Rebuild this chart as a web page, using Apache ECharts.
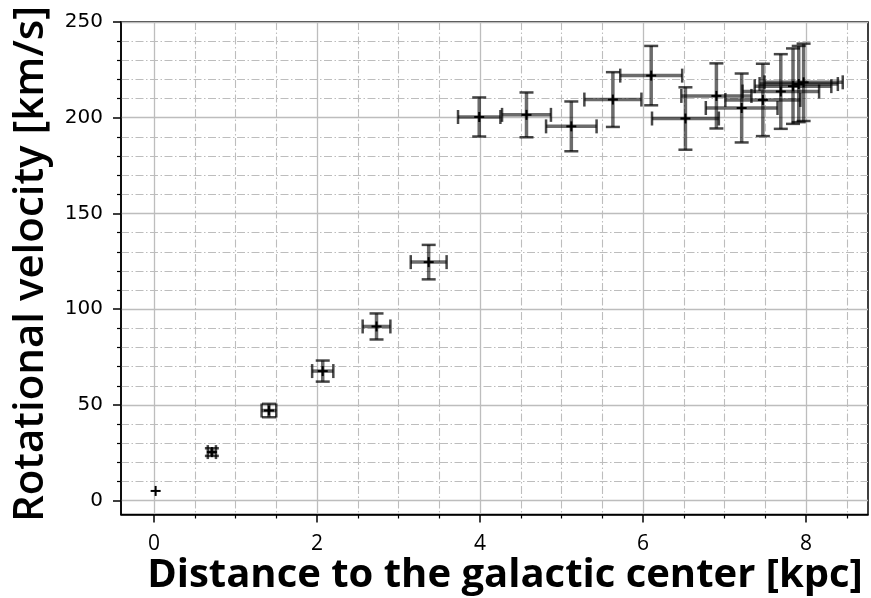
<!DOCTYPE html>
<html>
<head>
<meta charset="utf-8">
<script src="https://cdn.jsdelivr.net/npm/echarts@6/dist/echarts.min.js"></script>
<style>
  html, body { margin: 0; padding: 0; background: #fff; }
  #chart { width: 871px; height: 598px; }
</style>
</head>
<body>
<div id="chart"></div>
<script>
// Rotation curve measurements: distance [kpc], velocity [km/s] and their uncertainties
const distance    = [0.02, 0.71, 1.41, 2.07, 2.73, 3.37, 3.99, 4.57, 5.12, 5.63, 6.10, 6.52, 6.90, 7.21, 7.47, 7.69, 7.84, 7.91, 7.97];
const velocity    = [5.1, 25.4, 47.1, 67.7, 91.0, 124.6, 200.4, 201.5, 195.5, 209.5, 222.0, 199.6, 211.4, 205.1, 209.3, 213.7, 216.5, 217.6, 218.5];
const distanceErr = [0.00, 0.05, 0.09, 0.13, 0.17, 0.22, 0.26, 0.30, 0.31, 0.35, 0.38, 0.41, 0.43, 0.44, 0.46, 0.47, 0.47, 0.48, 0.48];
const velocityErr = [0.0, 2.0, 3.5, 5.5, 6.8, 9.0, 10.2, 11.7, 13.0, 14.3, 15.5, 16.3, 17.0, 18.0, 18.9, 19.5, 19.7, 19.9, 20.2];

// Axis ticks
const xMajorTicks = [0, 2, 4, 6, 8];
const xMinorTicks = [0.5, 1, 1.5, 2.5, 3, 3.5, 4.5, 5, 5.5, 6.5, 7, 7.5, 8.5];
const yMajorTicks = [0, 50, 100, 150, 200, 250];
const yMinorTicks = [10, 20, 30, 40, 60, 70, 80, 90, 110, 120, 130, 140, 160, 170, 180, 190, 210, 220, 230, 240];

const xTitle = 'Distance to the galactic center [kpc]';
const yTitle = 'Rotational velocity [km/s]';

const FONT = '"Open Sans", "Noto Sans", sans-serif';
const TICK_FONT = '"DejaVu Sans", sans-serif';
const X_MIN = -0.405, X_MAX = 8.76;
const Y_MIN = -7.2, Y_MAX = 250;

const rows = distance.map((d, i) => [d, velocity[i], distanceErr[i], velocityErr[i]]);

const BAR_COLOR = 'rgba(0,0,0,0.58)';
const CAP_COLOR = 'rgba(0,0,0,0.72)';
const CAP_HALF = 7;
const MARK_HALF = 5;

function renderErrorBar(params, api) {
  const x = api.value(0), y = api.value(1), xe = api.value(2), ye = api.value(3);
  const c = api.coord([x, y]);
  const children = [];
  const line = (x1, y1, x2, y2, stroke, w) => children.push({
    type: 'line',
    shape: { x1, y1, x2, y2 },
    style: { stroke, lineWidth: w }
  });
  if (xe > 0) {
    const l = api.coord([x - xe, y]);
    const r = api.coord([x + xe, y]);
    line(l[0], c[1], r[0], c[1], BAR_COLOR, 3.5);
    line(l[0], c[1] - CAP_HALF, l[0], c[1] + CAP_HALF, CAP_COLOR, 2.5);
    line(r[0], c[1] - CAP_HALF, r[0], c[1] + CAP_HALF, CAP_COLOR, 2.5);
  }
  if (ye > 0) {
    const t = api.coord([x, y + ye]);
    const b = api.coord([x, y - ye]);
    line(c[0], t[1], c[0], b[1], BAR_COLOR, 3.5);
    line(c[0] - CAP_HALF, t[1], c[0] + CAP_HALF, t[1], CAP_COLOR, 2.5);
    line(c[0] - CAP_HALF, b[1], c[0] + CAP_HALF, b[1], CAP_COLOR, 2.5);
  }
  // "+" marker at the measured value
  line(c[0] - MARK_HALF, c[1], c[0] + MARK_HALF, c[1], '#000', 2);
  line(c[0], c[1] - MARK_HALF, c[0], c[1] + MARK_HALF, '#000', 2);
  return { type: 'group', children };
}

const gridLineColor = '#bdbdbd';
const dashDot = [8, 2.5, 1.5, 2.5];

const chart = echarts.init(document.getElementById('chart'), null, { renderer: 'canvas' });
chart.setOption({
  animation: false,
  backgroundColor: '#fff',
  grid: {
    left: 121, right: 3, top: 22, bottom: 83.5,
    show: true, borderColor: '#000', borderWidth: 1.5, backgroundColor: 'transparent'
  },
  xAxis: [
    {
      type: 'value', min: X_MIN, max: X_MAX, position: 'bottom',
      axisLine: { show: true, onZero: false, lineStyle: { color: '#000', width: 1.5 } },
      axisTick: { show: true, inside: false, length: 8, customValues: xMajorTicks, lineStyle: { color: '#000', width: 1.5 } },
      axisLabel: { show: true, customValues: xMajorTicks, margin: 19, color: '#000', fontFamily: FONT, fontSize: 21 },
      splitLine: { show: true, lineStyle: { color: gridLineColor, width: 1.3, type: 'solid' } }
    },
    {
      type: 'value', min: X_MIN, max: X_MAX, position: 'bottom',
      axisLine: { show: false, onZero: false },
      axisTick: { show: true, inside: false, length: 4, customValues: xMinorTicks, lineStyle: { color: '#000', width: 1.2 } },
      axisLabel: { show: false, customValues: xMinorTicks },
      splitLine: { show: true, lineStyle: { color: gridLineColor, width: 1.1, type: dashDot } }
    }
  ],
  yAxis: [
    {
      type: 'value', min: Y_MIN, max: Y_MAX, position: 'left',
      axisLine: { show: true, onZero: false, lineStyle: { color: '#000', width: 1.5 } },
      axisTick: { show: true, inside: false, length: 8, customValues: yMajorTicks, lineStyle: { color: '#000', width: 1.5 } },
      axisLabel: { show: true, customValues: yMajorTicks, margin: 18, color: '#000', fontFamily: TICK_FONT, fontSize: 20 },
      splitLine: { show: true, lineStyle: { color: gridLineColor, width: 1.3, type: 'solid' } }
    },
    {
      type: 'value', min: Y_MIN, max: Y_MAX, position: 'left',
      axisLine: { show: false, onZero: false },
      axisTick: { show: true, inside: false, length: 4, customValues: yMinorTicks, lineStyle: { color: '#000', width: 1.2 } },
      axisLabel: { show: false, customValues: yMinorTicks },
      splitLine: { show: true, lineStyle: { color: gridLineColor, width: 1.1, type: dashDot } }
    }
  ],
  graphic: [
    {
      type: 'text', x: 505, y: 576,
      style: { text: xTitle, fontFamily: FONT, fontSize: 40, fontWeight: 'bold', fill: '#000', align: 'center', verticalAlign: 'middle' }
    },
    {
      type: 'text', x: 31, y: 264, rotation: Math.PI / 2,
      style: { text: yTitle, fontFamily: FONT, fontSize: 42, fontWeight: 600, fill: '#000', align: 'center', verticalAlign: 'middle' }
    }
  ],
  series: [
    {
      type: 'custom',
      xAxisIndex: 0, yAxisIndex: 0,
      renderItem: renderErrorBar,
      encode: { x: 0, y: 1 },
      data: rows,
      z: 10
    }
  ]
});
</script>
</body>
</html>
